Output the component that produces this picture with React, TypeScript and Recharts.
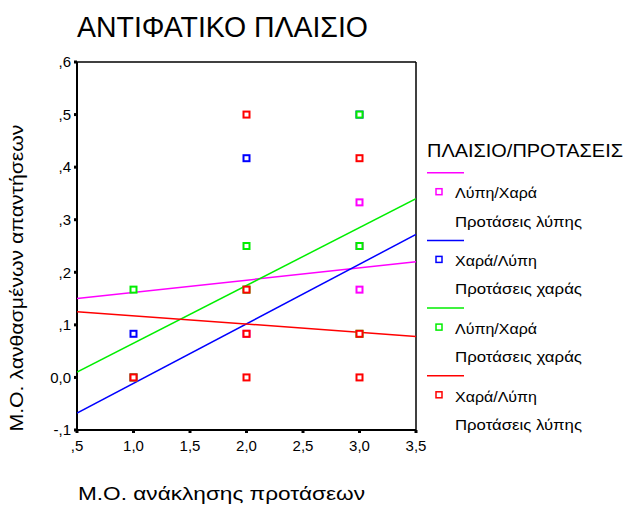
import { ComposedChart, Scatter, XAxis, YAxis, ReferenceLine } from 'recharts';

const FONT = '"Liberation Sans", Arial, sans-serif';

// categories / series
const seriesNames = ['Λύπη/Χαρά', 'Χαρά/Λύπη', 'Λύπη/Χαρά', 'Χαρά/Λύπη'];
const seriesSub = ['Προτάσεις λύπης', 'Προτάσεις χαράς', 'Προτάσεις χαράς', 'Προτάσεις λύπης'];
const seriesColors = ['#ff00ff', '#0000ff', '#00ee00', '#ff0000'];

// points (x = M.O. ανάκλησης, y = M.O. λανθασμένων)
const magentaPoints = [
  { x: 1, y: 0 },
  { x: 2, y: 0.083 },
  { x: 3, y: 0.333 },
  { x: 3, y: 0.25 },
  { x: 3, y: 0.167 },
];
const bluePoints = [
  { x: 1, y: 0.083 },
  { x: 2, y: 0.417 },
  { x: 3, y: 0.5 },
];
const greenPoints = [
  { x: 1, y: 0.167 },
  { x: 1, y: 0 },
  { x: 2, y: 0.25 },
  { x: 2, y: 0.167 },
  { x: 3, y: 0.5 },
  { x: 3, y: 0.25 },
  { x: 3, y: 0.083 },
];
const redPoints = [
  { x: 1, y: 0 },
  { x: 2, y: 0.5 },
  { x: 2, y: 0.167 },
  { x: 2, y: 0.083 },
  { x: 2, y: 0 },
  { x: 3, y: 0.417 },
  { x: 3, y: 0.083 },
  { x: 3, y: 0 },
];

// fit lines (endpoints read at x = .5 and 3.5)
const magentaFit = [{ x: 0.5, y: 0.15 }, { x: 3.5, y: 0.22 }];
const blueFit = [{ x: 0.5, y: -0.068 }, { x: 3.5, y: 0.272 }];
const greenFit = [{ x: 0.5, y: 0.01 }, { x: 3.5, y: 0.34 }];
const redFit = [{ x: 0.5, y: 0.125 }, { x: 3.5, y: 0.078 }];

const xTicks = [0.5, 1, 1.5, 2, 2.5, 3, 3.5];
const yTicks = [-0.1, 0, 0.1, 0.2, 0.3, 0.4, 0.5, 0.6];

const fmtX = (v: number) => (v < 1 ? ',' + Math.round(v * 10) : v.toFixed(1).replace('.', ','));
const fmtY = (v: number) => {
  if (Math.abs(v) < 1e-9) return '0,0';
  const s = ',' + Math.round(Math.abs(v) * 10);
  return v < 0 ? '-' + s : s;
};

const square = (color: string) => (props: any) => {
  const { cx, cy } = props;
  if (cx == null || cy == null) return <g />;
  return <rect x={cx - 3} y={cy - 3} width={6} height={6} fill="#fff" stroke={color} strokeWidth={2} />;
};

const noShape = () => <g />;

const pointSets = [magentaPoints, bluePoints, greenPoints, redPoints];
const fitSets = [magentaFit, blueFit, greenFit, redFit];

export default function App() {
  return (
    <div style={{ position: 'absolute', left: 0, top: 0, width: 625, height: 506, background: '#fff', fontFamily: FONT }}>
      <ComposedChart width={625} height={506} margin={{ top: 62, right: 209, bottom: 46, left: 17 }}>
        <XAxis
          type="number"
          dataKey="x"
          domain={[0.5, 3.5]}
          ticks={xTicks}
          tickFormatter={fmtX}
          allowDataOverflow
          height={30}
          axisLine={{ stroke: '#000', strokeWidth: 2 }}
          tickLine={{ stroke: '#000', strokeWidth: 3 }}
          tickSize={3}
          tickMargin={7}
          tick={{ fill: '#000', fontSize: 15, fontFamily: FONT }}
        />
        <YAxis
          type="number"
          dataKey="y"
          domain={[-0.1, 0.6]}
          ticks={yTicks}
          tickFormatter={fmtY}
          allowDataOverflow
          width={60}
          axisLine={{ stroke: '#000', strokeWidth: 2 }}
          tickLine={{ stroke: '#000', strokeWidth: 3 }}
          tickSize={3}
          tickMargin={3}
          tick={{ fill: '#000', fontSize: 15, fontFamily: FONT }}
        />
        <ReferenceLine y={0.6} stroke="#000" strokeWidth={1.5} />
        <ReferenceLine x={3.5} stroke="#000" strokeWidth={1.5} />
        {fitSets.map((d, i) => (
          <Scatter
            key={'fit' + i}
            data={d}
            line={{ stroke: seriesColors[i], strokeWidth: 1.5 }}
            shape={noShape}
            isAnimationActive={false}
          />
        ))}
        {pointSets.map((d, i) => (
          <Scatter key={'pts' + i} data={d} shape={square(seriesColors[i])} isAnimationActive={false} />
        ))}
      </ComposedChart>

      {/* titel, aslabels en legenda */}
      <svg
        width={625}
        height={506}
        style={{ position: 'absolute', left: 0, top: 0, pointerEvents: 'none' }}
        fontFamily={FONT}
      >
        <text x={77} y={37} fontSize={29} textLength={291} lengthAdjust="spacingAndGlyphs">
          ΑΝΤΙΦΑΤΙΚΟ ΠΛΑΙΣΙΟ
        </text>
        <text
          x={0}
          y={0}
          fontSize={18}
          textAnchor="middle"
          transform="translate(23 278) rotate(-90)"
          textLength={307}
          lengthAdjust="spacingAndGlyphs"
        >
          Μ.Ο. λανθασμένων απαντήσεων
        </text>
        <text x={78} y={500} fontSize={18} textLength={287} lengthAdjust="spacingAndGlyphs">
          Μ.Ο. ανάκλησης προτάσεων
        </text>

        <text x={427} y={157} fontSize={18} textLength={196} lengthAdjust="spacingAndGlyphs">
          ΠΛΑΙΣΙΟ/ΠΡΟΤΑΣΕΙΣ
        </text>
        {seriesNames.map((name, i) => {
          const L = 172.7 + i * 67.7;
          return (
            <g key={i}>
              <line x1={427} x2={464} y1={L} y2={L} stroke={seriesColors[i]} strokeWidth={1.5} />
              <rect x={436} y={L + 16} width={6} height={6} fill="#fff" stroke={seriesColors[i]} strokeWidth={1.5} />
              <text x={455} y={L + 25.7} fontSize={15} textLength={82} lengthAdjust="spacingAndGlyphs">
                {name}
              </text>
              <text x={455} y={L + 54} fontSize={15} textLength={127} lengthAdjust="spacingAndGlyphs">
                {seriesSub[i]}
              </text>
            </g>
          );
        })}
      </svg>
    </div>
  );
}
